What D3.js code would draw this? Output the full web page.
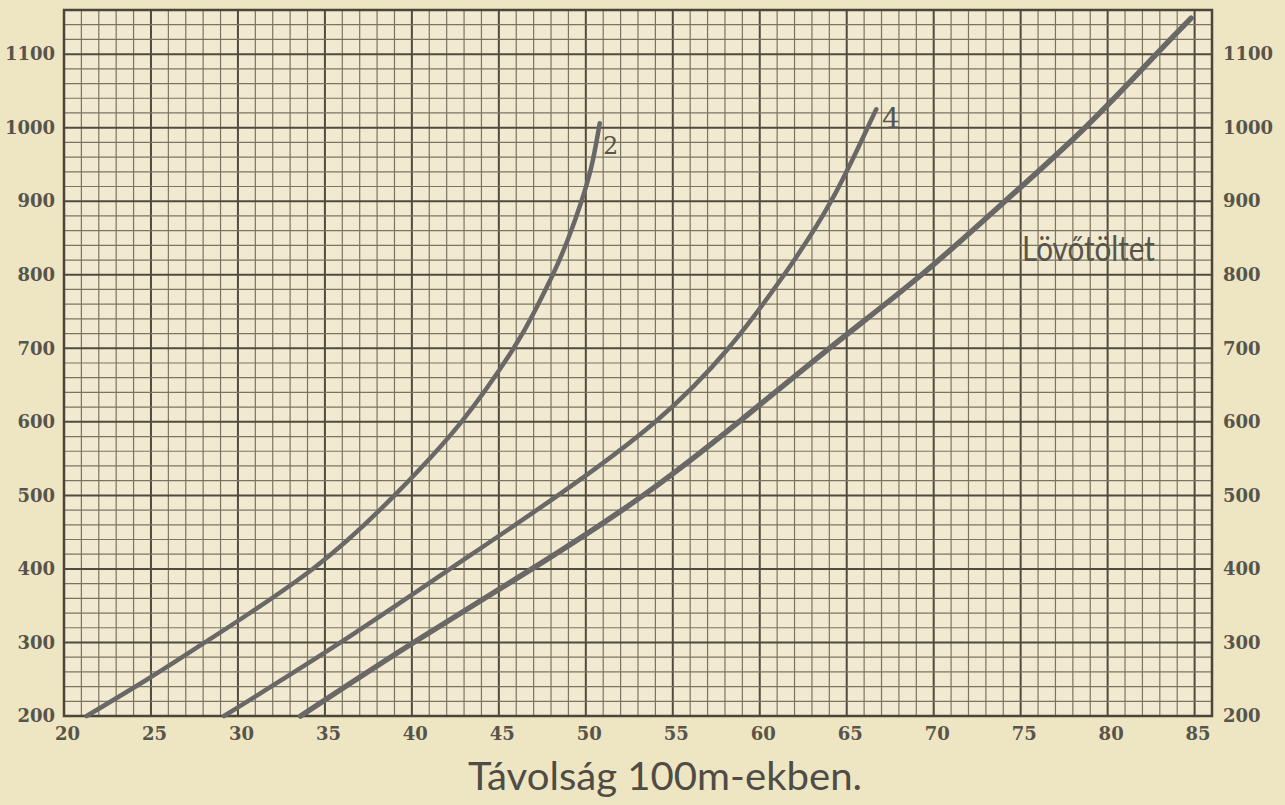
<!DOCTYPE html>
<html>
<head>
<meta charset="utf-8">
<script src="https://cdn.jsdelivr.net/npm/d3@7"></script>
<style>
  body { margin: 0; background: #eee5c2; }
  .tick text { font-family: "DejaVu Serif", serif; font-weight: bold; fill: #57544b; }
</style>
</head>
<body>
<div id="chart"></div>
<script>
// tick labels
var xTicks = [20, 25, 30, 35, 40, 45, 50, 55, 60, 65, 70, 75, 80, 85];
var yTicks = [200, 300, 400, 500, 600, 700, 800, 900, 1000, 1100];

// curve "2": range (100 m) and value
var c2Range = [21.3, 24.8, 28.1, 34.3, 39.0, 42.85, 45.85, 47.05, 48.1, 49.0, 49.75, 50.35, 50.8];
var c2Value = [200, 250, 300, 400, 500, 600, 700, 750, 800, 850, 900, 950, 1006];

// curve "4"
var c4Range = [29.2, 35.9, 42.2, 48.4, 54.0, 58.2, 61.4, 64.1, 66.2, 66.7];
var c4Value = [200, 300, 400, 500, 600, 700, 800, 900, 1000, 1025];

// curve "Lövőtöltet"
var c3Range = [33.6, 40.1, 46.9, 53.3, 58.8, 64.0, 69.3, 74.1, 78.7, 82.8, 84.8];
var c3Value = [200, 300, 400, 500, 600, 700, 800, 900, 1000, 1100, 1149];

var W = 1285, H = 805;
var paper = "#eee5c2";

var svg = d3.select("#chart").append("svg")
  .attr("width", W)
  .attr("height", H)

svg.append("rect").attr("width", W).attr("height", H).style("fill", paper)

var x = d3.scaleLinear().domain([20, 86]).range([64, 1212]);
var y = d3.scaleLinear().domain([200, 1160]).range([716, 10]);

svg.append("rect")
  .attr("x", x(20)).attr("y", y(1160))
  .attr("width", x(86) - x(20)).attr("height", y(200) - y(1160))
  .style("fill", "#f1ead0")

// graph paper grid
var grid = svg.append("g").attr("class", "grid")

grid.selectAll(".vline")
  .data(d3.range(21, 86)).enter()
  .append("line")
  .attr("x1", d => x(d)).attr("x2", d => x(d))
  .attr("y1", y(200)).attr("y2", y(1160))
  .style("stroke", d => d % 5 == 0 ? "#4f4b3f" : "#7a7563")
  .style("stroke-width", d => d % 5 == 0 ? 2 : 1.2)

grid.selectAll(".hline")
  .data(d3.range(220, 1160, 20)).enter()
  .append("line")
  .attr("x1", x(20)).attr("x2", x(86))
  .attr("y1", d => y(d)).attr("y2", d => y(d))
  .style("stroke", d => d % 100 == 0 ? "#4f4b3f" : "#7a7563")
  .style("stroke-width", d => d % 100 == 0 ? 2 : 1.2)

svg.append("rect")
  .attr("x", x(20)).attr("y", y(1160))
  .attr("width", x(86) - x(20)).attr("height", y(200) - y(1160))
  .style("fill", "none")
  .style("stroke", "#4a463b")
  .style("stroke-width", 2.5)

// curves
var line = d3.line()
  .x(d => x(d[0]))
  .y(d => y(d[1]))
  .curve(d3.curveNatural)

var curves = [
  {range: c2Range, value: c2Value, width: 4.5},
  {range: c4Range, value: c4Value, width: 4.5},
  {range: c3Range, value: c3Value, width: 5.5}
];

svg.append("g").attr("class", "curves")
  .selectAll("path")
  .data(curves).enter()
  .append("path")
  .attr("d", c => line(d3.zip(c.range, c.value)))
  .style("fill", "none")
  .style("stroke", "#6a6866")
  .style("stroke-width", c => c.width)
  .style("stroke-linecap", "round")

// axes
var fmt = d3.format("d");
var left = svg.append("g")
  .attr("transform", "translate(" + x(20) + ",0)")
  .call(d3.axisLeft(y).tickValues(yTicks).tickFormat(fmt).tickSize(0).tickPadding(9))
var right = svg.append("g")
  .attr("transform", "translate(" + x(86) + ",0)")
  .call(d3.axisRight(y).tickValues(yTicks).tickFormat(fmt).tickSize(0).tickPadding(11))
var bottom = svg.append("g")
  .attr("transform", "translate(0," + y(200) + ")")
  .call(d3.axisBottom(x).tickValues(xTicks).tickFormat(fmt).tickSize(0).tickPadding(11))

;[left, right, bottom].forEach(function (ax) {
  ax.select(".domain").remove()
  ax.selectAll("text").style("font-size", "18px")
})
bottom.selectAll("text").attr("dx", 3)

// labels
svg.append("text")
  .text("2")
  .attr("x", 603).attr("y", 154)
  .style("font-family", "DejaVu Serif, serif")
  .style("font-size", "24px")
  .style("fill", "#57544b")

svg.append("text")
  .text("4")
  .attr("x", 882).attr("y", 128)
  .style("font-family", "DejaVu Serif, serif")
  .style("font-size", "28px")
  .style("fill", "#57544b")

svg.append("text")
  .text("Lövőtöltet")
  .attr("x", 1022).attr("y", 261)
  .attr("textLength", 133)
  .attr("lengthAdjust", "spacingAndGlyphs")
  .style("font-family", "Lato, sans-serif")
  .style("font-size", "34px")
  .style("fill", "#57544b")

svg.append("text")
  .text("Távolság 100m-ekben.")
  .attr("x", 468).attr("y", 790)
  .attr("textLength", 394)
  .attr("lengthAdjust", "spacingAndGlyphs")
  .style("font-family", "Lato, sans-serif")
  .style("font-size", "38px")
  .style("fill", "#4f4c45")
</script>
</body>
</html>
